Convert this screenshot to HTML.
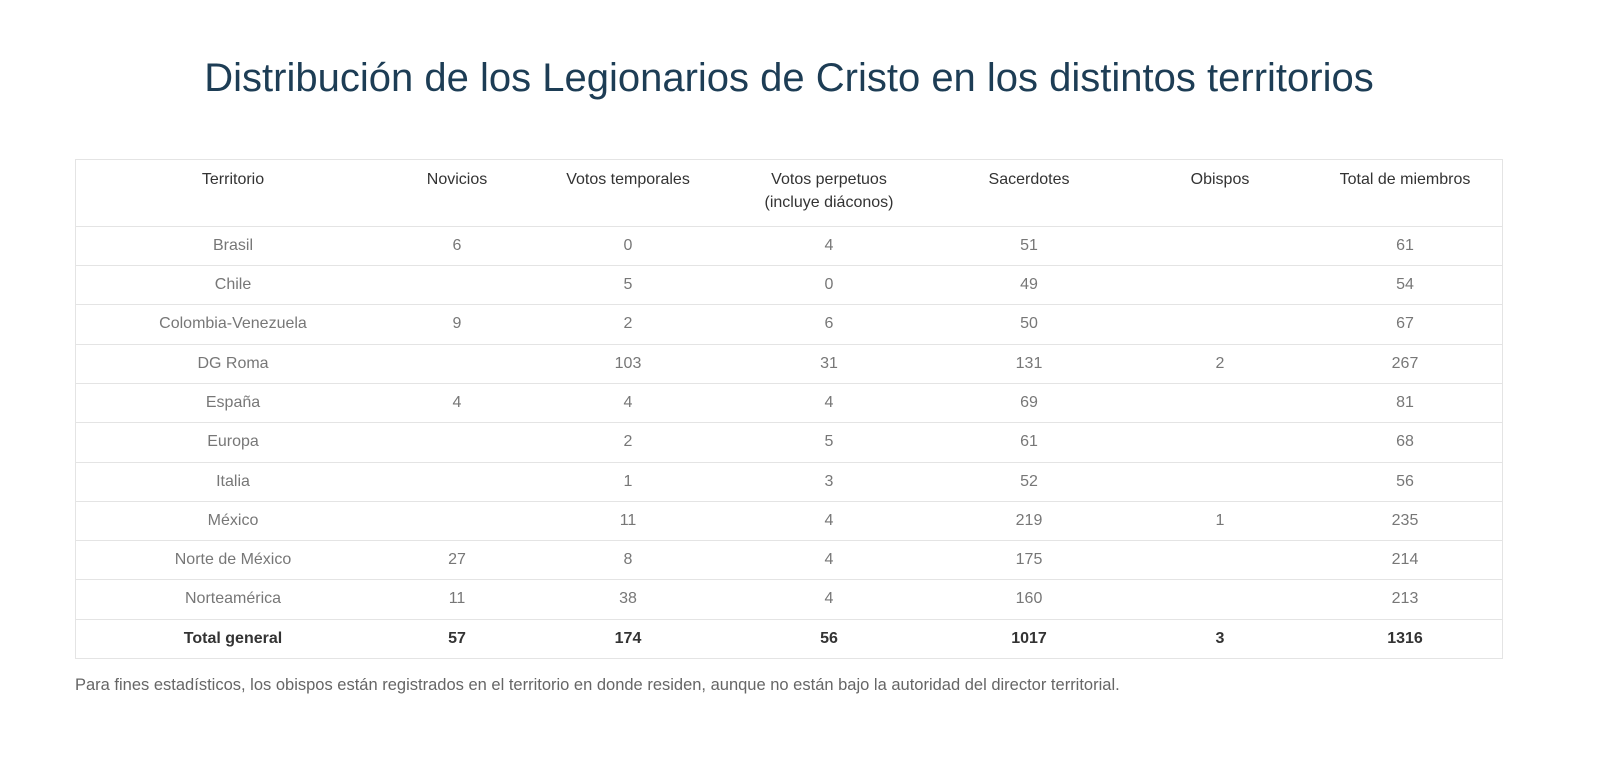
<!DOCTYPE html>
<html><head><meta charset="utf-8"><style>
body{margin:0;width:1600px;height:759px;background:#fff;font-family:"Liberation Sans",sans-serif;position:relative;overflow:hidden}
h1{position:absolute;top:56px;left:0;width:1578px;margin:0;text-align:center;font-weight:normal;font-size:40px;color:#1d3d55}
.tbl{position:absolute;left:75px;top:159px;width:1426px;height:498px;border:1px solid #e4e4e4}
.r{position:absolute;left:75px;width:1428px;height:39px;border-top:1px solid #e4e4e4}
.c{position:absolute;transform:translateX(-50%);white-space:nowrap;font-size:16px;text-align:center;top:10px}
.hd{position:absolute;left:0;top:159px;width:1600px}
.hd .c{color:#333;line-height:23px;top:9px}
.r .c{color:#777}
.r.t .c{color:#333;font-weight:bold}
.note{position:absolute;left:75px;top:676px;font-size:16.5px;color:#666}
.a{left:158px}.b{left:382px}.d{left:553px}.e{left:754px}.f{left:954px}.g{left:1145px}.h{left:1330px}
.hd .a{left:233px}.hd .b{left:457px}.hd .d{left:628px}.hd .e{left:829px}.hd .f{left:1029px}.hd .g{left:1220px}.hd .h{left:1405px}
</style></head><body>
<h1>Distribución de los Legionarios de Cristo en los distintos territorios</h1>
<div class="tbl"></div>
<div class="hd">
<div class="c a">Territorio</div><div class="c b">Novicios</div><div class="c d">Votos temporales</div><div class="c e">Votos perpetuos<br>(incluye diáconos)</div><div class="c f">Sacerdotes</div><div class="c g">Obispos</div><div class="c h">Total de miembros</div>
</div>
<div class="r" style="top:226px"><div class="c a">Brasil</div><div class="c b">6</div><div class="c d">0</div><div class="c e">4</div><div class="c f">51</div><div class="c g"></div><div class="c h">61</div></div>
<div class="r" style="top:265px"><div class="c a">Chile</div><div class="c b"></div><div class="c d">5</div><div class="c e">0</div><div class="c f">49</div><div class="c g"></div><div class="c h">54</div></div>
<div class="r" style="top:304px"><div class="c a">Colombia-Venezuela</div><div class="c b">9</div><div class="c d">2</div><div class="c e">6</div><div class="c f">50</div><div class="c g"></div><div class="c h">67</div></div>
<div class="r" style="top:344px"><div class="c a">DG Roma</div><div class="c b"></div><div class="c d">103</div><div class="c e">31</div><div class="c f">131</div><div class="c g">2</div><div class="c h">267</div></div>
<div class="r" style="top:383px"><div class="c a">España</div><div class="c b">4</div><div class="c d">4</div><div class="c e">4</div><div class="c f">69</div><div class="c g"></div><div class="c h">81</div></div>
<div class="r" style="top:422px"><div class="c a">Europa</div><div class="c b"></div><div class="c d">2</div><div class="c e">5</div><div class="c f">61</div><div class="c g"></div><div class="c h">68</div></div>
<div class="r" style="top:462px"><div class="c a">Italia</div><div class="c b"></div><div class="c d">1</div><div class="c e">3</div><div class="c f">52</div><div class="c g"></div><div class="c h">56</div></div>
<div class="r" style="top:501px"><div class="c a">México</div><div class="c b"></div><div class="c d">11</div><div class="c e">4</div><div class="c f">219</div><div class="c g">1</div><div class="c h">235</div></div>
<div class="r" style="top:540px"><div class="c a">Norte de México</div><div class="c b">27</div><div class="c d">8</div><div class="c e">4</div><div class="c f">175</div><div class="c g"></div><div class="c h">214</div></div>
<div class="r" style="top:579px"><div class="c a">Norteamérica</div><div class="c b">11</div><div class="c d">38</div><div class="c e">4</div><div class="c f">160</div><div class="c g"></div><div class="c h">213</div></div>
<div class="r t" style="top:619px"><div class="c a">Total general</div><div class="c b">57</div><div class="c d">174</div><div class="c e">56</div><div class="c f">1017</div><div class="c g">3</div><div class="c h">1316</div></div>
<div class="note">Para fines estadísticos, los obispos están registrados en el territorio en donde residen, aunque no están bajo la autoridad del director territorial.</div>
</body></html>
